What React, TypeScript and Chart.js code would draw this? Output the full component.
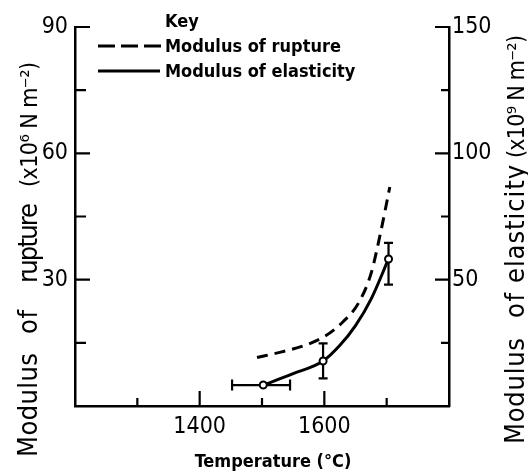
import React, { useEffect, useRef } from "react";
import { Chart, registerables } from "chart.js";

Chart.register(...registerables);

// ---- axis ranges / tick labels ----
const X_MIN = 1200;
const X_MAX = 1800;
const X_STEP = 100;
const X_LABELED = [1400, 1600];

const LEFT_MAX = 90;
const LEFT_STEP = 15;
const LEFT_LABELED = [30, 60, 90];

const RIGHT_MAX = 150;
const RIGHT_STEP = 25;
const RIGHT_LABELED = [50, 100, 150];

// ---- series ----
const ruptureLabel = "Modulus of rupture";
const ruptureTemps = [1492, 1530, 1565, 1600, 1630, 1655, 1675, 1690, 1705];
const ruptureValues = [11.5, 12.8, 14.2, 16.5, 20.0, 24.5, 31.5, 41.0, 52.0];

const elasticityLabel = "Modulus of elasticity";
const elasticityCurveTemps = [1502, 1550, 1598, 1625, 1650, 1675, 1703];
const elasticityCurveValues = [8.3, 12.8, 17.8, 24.0, 31.8, 42.3, 58.2];

const measuredTemps = [1502, 1598, 1703];
const measuredValues = [8.3, 17.8, 58.2];
const valueErrLow = [8.3, 10.9, 48.0];
const valueErrHigh = [8.3, 24.8, 64.6];
const tempErrLow = [1452, 1598, 1703];
const tempErrHigh = [1545, 1598, 1703];

// ---- titles ----
const xTitle = "Temperature (°C)";
const legendTitle = "Key";
const leftTitleWords = ["Modulus", "of", "rupture", "(x10⁶ N m⁻²)"];
const rightTitleWords = ["Modulus", "of", "elasticity", "(x10⁹ N m⁻²)"];

const TICK_FONT = "DejaVu Sans Condensed";
const BOLD_FONT = "bold 18px 'DejaVu Sans Condensed', 'DejaVu Sans', sans-serif";
const TITLE_FONT = "27px 'DejaVu Sans Condensed', 'DejaVu Sans', sans-serif";
const UNIT_FONT = "23px 'DejaVu Sans Condensed', 'DejaVu Sans', sans-serif";

// word spans along the vertical titles (bottom y, top y)
const leftTitleSpans = [
  [457, 353],
  [334, 310],
  [283, 203],
  [187, 62],
];
const rightTitleSpans = [
  [444, 338],
  [318, 293],
  [283, 165],
  [158, 35],
];

function drawSpaced(ctx: CanvasRenderingContext2D, text: string, x: number, yBottom: number, length: number) {
  const chars = Array.from(text);
  const widths = chars.map((c) => ctx.measureText(c).width);
  const natural = widths.reduce((a, b) => a + b, 0);
  const gap = chars.length > 1 ? (length - natural) / (chars.length - 1) : 0;
  ctx.save();
  ctx.translate(x, yBottom);
  ctx.rotate(-Math.PI / 2);
  ctx.textBaseline = "alphabetic";
  ctx.textAlign = "left";
  let pos = 0;
  chars.forEach((c, i) => {
    ctx.fillText(c, pos, 0);
    pos += widths[i] + gap;
  });
  ctx.restore();
}

const decorPlugin = {
  id: "decor",
  beforeDatasetsDraw(chart: any) {
    const { ctx, scales } = chart;
    const x = scales.x;
    const y2 = scales.y2;
    ctx.save();
    ctx.strokeStyle = "#000";
    ctx.lineWidth = 2.2;
    measuredTemps.forEach((t, i) => {
      const px = x.getPixelForValue(t);
      const py = y2.getPixelForValue(measuredValues[i]);
      if (valueErrLow[i] !== valueErrHigh[i]) {
        const a = y2.getPixelForValue(valueErrLow[i]);
        const b = y2.getPixelForValue(valueErrHigh[i]);
        ctx.beginPath();
        ctx.moveTo(px, a);
        ctx.lineTo(px, b);
        ctx.moveTo(px - 4.5, a);
        ctx.lineTo(px + 4.5, a);
        ctx.moveTo(px - 4.5, b);
        ctx.lineTo(px + 4.5, b);
        ctx.stroke();
      }
      if (tempErrLow[i] !== tempErrHigh[i]) {
        const a = x.getPixelForValue(tempErrLow[i]);
        const b = x.getPixelForValue(tempErrHigh[i]);
        ctx.beginPath();
        ctx.moveTo(a, py);
        ctx.lineTo(b, py);
        ctx.moveTo(a, py - 5.5);
        ctx.lineTo(a, py + 5.5);
        ctx.moveTo(b, py - 5.5);
        ctx.lineTo(b, py + 5.5);
        ctx.stroke();
      }
    });
    ctx.restore();
  },
  afterDraw(chart: any) {
    const { ctx, chartArea, scales } = chart;
    const { left, right, bottom } = chartArea;
    const x = scales.x;
    const y = scales.y;
    const y2 = scales.y2;
    ctx.save();
    ctx.strokeStyle = "#000";
    ctx.fillStyle = "#000";
    ctx.lineWidth = 2.2;
    // inward ticks
    ctx.beginPath();
    for (let v = X_MIN + X_STEP; v < X_MAX; v += X_STEP) {
      const px = x.getPixelForValue(v);
      const len = X_LABELED.includes(v) ? 15 : 8;
      ctx.moveTo(px, bottom);
      ctx.lineTo(px, bottom - len);
    }
    for (let v = LEFT_STEP; v <= LEFT_MAX; v += LEFT_STEP) {
      const py = y.getPixelForValue(v);
      const len = LEFT_LABELED.includes(v) ? 15 : 11;
      ctx.moveTo(left, py);
      ctx.lineTo(left + len, py);
    }
    for (let v = RIGHT_STEP; v <= RIGHT_MAX; v += RIGHT_STEP) {
      const py = y2.getPixelForValue(v);
      const len = RIGHT_LABELED.includes(v) ? 14 : 8;
      ctx.moveTo(right, py);
      ctx.lineTo(right - len, py);
    }
    ctx.stroke();

    // legend
    ctx.font = BOLD_FONT;
    ctx.textBaseline = "alphabetic";
    ctx.textAlign = "left";
    ctx.fillText(legendTitle, 165, 27);
    ctx.lineWidth = 3;
    ctx.setLineDash([17, 6]);
    ctx.beginPath();
    ctx.moveTo(98, 46);
    ctx.lineTo(162, 46);
    ctx.stroke();
    ctx.setLineDash([]);
    ctx.fillText(ruptureLabel, 165, 52);
    ctx.beginPath();
    ctx.moveTo(98, 71);
    ctx.lineTo(160, 71);
    ctx.stroke();
    ctx.fillText(elasticityLabel, 165, 77);

    // x title
    ctx.textAlign = "center";
    ctx.fillText(xTitle, 273, 467);

    // vertical titles
    leftTitleWords.forEach((w, i) => {
      const [b, t] = leftTitleSpans[i];
      ctx.font = i === 3 ? UNIT_FONT : TITLE_FONT;
      drawSpaced(ctx, w, 37, b, b - t);
    });
    rightTitleWords.forEach((w, i) => {
      const [b, t] = rightTitleSpans[i];
      ctx.font = i === 3 ? UNIT_FONT : TITLE_FONT;
      drawSpaced(ctx, w, 524, b, b - t);
    });
    ctx.restore();
  },
};

export default function App() {
  const ref = useRef<HTMLCanvasElement | null>(null);
  useEffect(() => {
    document.body.style.margin = "0";
    const canvas = ref.current;
    if (!canvas) return;
    const chart = new Chart(canvas, {
      type: "line",
      data: {
        datasets: [
          {
            label: "measured",
            data: measuredTemps.map((t, i) => ({ x: t, y: measuredValues[i] })),
            yAxisID: "y2",
            showLine: false,
            pointRadius: 3.5,
            pointBorderWidth: 2,
            pointBackgroundColor: "#fff",
            pointBorderColor: "#000",
          },
          {
            label: elasticityLabel,
            data: elasticityCurveTemps.map((t, i) => ({ x: t, y: elasticityCurveValues[i] })),
            yAxisID: "y2",
            borderColor: "#000",
            borderWidth: 3,
            pointRadius: 0,
            cubicInterpolationMode: "monotone",
            fill: false,
          },
          {
            label: ruptureLabel,
            data: ruptureTemps.map((t, i) => ({ x: t, y: ruptureValues[i] })),
            yAxisID: "y",
            borderColor: "#000",
            borderWidth: 3,
            borderDash: [11, 7],
            pointRadius: 0,
            cubicInterpolationMode: "monotone",
            fill: false,
          },
        ],
      },
      options: {
        responsive: false,
        animation: false,
        devicePixelRatio: 1,
        layout: { padding: { top: 27, left: 0, right: 0, bottom: 0 } },
        plugins: { legend: { display: false }, tooltip: { enabled: false } },
        scales: {
          x: {
            type: "linear",
            min: X_MIN,
            max: X_MAX,
            grid: { display: true, drawOnChartArea: false, drawTicks: false },
            border: { display: true, color: "#000", width: 2.5 },
            ticks: {
              stepSize: X_STEP,
              autoSkip: false,
              maxRotation: 0,
              padding: 7,
              color: "#000",
              font: { family: TICK_FONT, size: 23 },
              callback: (v: any) => (X_LABELED.includes(Number(v)) ? String(v) : ""),
            },
            afterFit: (s: any) => {
              s.height = 67;
            },
          },
          y: {
            type: "linear",
            position: "left",
            min: 0,
            max: LEFT_MAX,
            grid: { display: true, drawOnChartArea: false, drawTicks: false },
            border: { display: true, color: "#000", width: 2.5 },
            ticks: {
              stepSize: LEFT_STEP,
              autoSkip: false,
              padding: 7,
              color: "#000",
              font: { family: TICK_FONT, size: 23 },
              callback: (v: any) => (LEFT_LABELED.includes(Number(v)) ? String(v) : ""),
            },
            afterFit: (s: any) => {
              s.width = 75;
            },
          },
          y2: {
            type: "linear",
            position: "right",
            min: 0,
            max: RIGHT_MAX,
            grid: { display: true, drawOnChartArea: false, drawTicks: false },
            border: { display: true, color: "#000", width: 2.5 },
            ticks: {
              stepSize: RIGHT_STEP,
              autoSkip: false,
              padding: 3,
              color: "#000",
              font: { family: TICK_FONT, size: 23 },
              callback: (v: any) => (RIGHT_LABELED.includes(Number(v)) ? String(v) : ""),
            },
            afterFit: (s: any) => {
              s.width = 79;
            },
          },
        },
      },
      plugins: [decorPlugin],
    } as any);
    return () => chart.destroy();
  }, []);
  return (
    <div style={{ width: 528, height: 473, background: "#fff" }}>
      <canvas ref={ref} width={528} height={473} style={{ display: "block" }} />
    </div>
  );
}
